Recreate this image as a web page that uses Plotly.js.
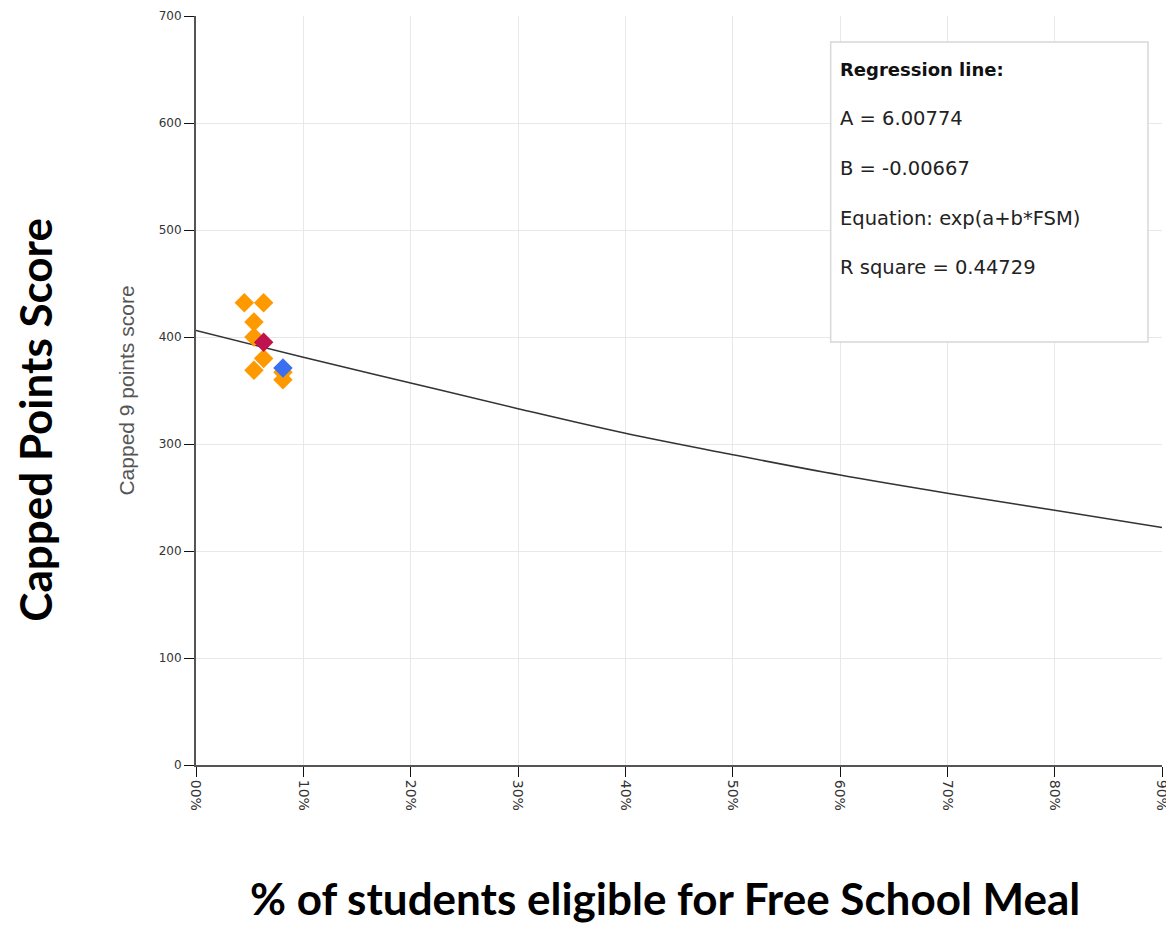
<!DOCTYPE html>
<html>
<head>
<meta charset="utf-8">
<script src="https://cdn.plot.ly/plotly-3.0.1.min.js"></script>
<style>html,body{margin:0;padding:0;background:#fff;}#chart{width:1166px;height:925px;}</style>
</head>
<body>
<div id="chart"></div>
<script>
// Data
const orangeFSM   = [4.5, 6.3, 5.4, 5.4, 6.3, 5.4, 8.1, 8.1];
const orangeScore = [432, 432, 414, 400, 380, 369, 360, 367];
const redFSM   = [6.3];
const redScore = [395];
const blueFSM   = [8.1];
const blueScore = [371];
const lineFSM   = [0, 10, 20, 30, 40, 50, 60, 70, 80, 90];
const lineScore = [406, 381, 357, 333, 310, 290, 271, 254, 238, 222];
const xTickVals = [0, 10, 20, 30, 40, 50, 60, 70, 80, 90];
const xTickText = ["00%", "10%", "20%", "30%", "40%", "50%", "60%", "70%", "80%", "90%"];
const boxLines = ["A = 6.00774", "B = -0.00667", "Equation: exp(a+b*FSM)", "R square = 0.44729"];

const traces = [
  {x: lineFSM, y: lineScore, mode: 'lines', line: {color: '#333', width: 1.5, shape: 'spline'}, hoverinfo: 'skip'},
  {x: orangeFSM, y: orangeScore, mode: 'markers', marker: {symbol: 'diamond', size: 15, color: '#FF9900'}},
  {x: blueFSM, y: blueScore, mode: 'markers', marker: {symbol: 'diamond', size: 15, color: '#3A6FF0'}},
  {x: redFSM, y: redScore, mode: 'markers', marker: {symbol: 'diamond', size: 15, color: '#C0134D'}}
];

const boxFont = {family: 'DejaVu Sans, Verdana, sans-serif', size: 19.5, color: '#222'};
const titleFont = {family: 'Lato, Open Sans, sans-serif', size: 44, color: '#000'};
const annotations = [
  {xref: 'paper', yref: 'paper', x: 0.6646, y: 0.928, xanchor: 'left', yanchor: 'middle', showarrow: false,
   text: '<b>Regression line:</b>', font: {family: 'DejaVu Sans, Verdana, sans-serif', size: 18, color: '#111'}},
  {xref: 'paper', yref: 'paper', x: -0.167, y: 0.4606, xanchor: 'center', yanchor: 'middle', showarrow: false,
   textangle: -90, text: '<b>Capped Points Score</b>', font: titleFont},
  {xref: 'paper', yref: 'paper', x: 0.4855, y: -0.1775, xanchor: 'center', yanchor: 'middle', showarrow: false,
   text: '<b>% of students eligible for Free School Meal</b>', font: titleFont}
];
const lineY = [0.8638, 0.797, 0.7303, 0.6636];
boxLines.forEach((t, i) => annotations.push({xref: 'paper', yref: 'paper', x: 0.6646, y: lineY[i], xanchor: 'left', yanchor: 'middle', showarrow: false, text: t, font: boxFont}));

const layout = {
  width: 1166, height: 925,
  margin: {l: 196, r: 4, t: 16, b: 160},
  paper_bgcolor: '#fff', plot_bgcolor: '#fff',
  showlegend: false,
  xaxis: {
    range: [0, 90], tickvals: xTickVals, ticktext: xTickText, tickangle: 90,
    showgrid: true, gridcolor: '#e8e8e8', zeroline: false,
    showline: true, linecolor: '#555', linewidth: 2,
    ticks: 'outside', ticklen: 10, tickcolor: '#111', tickwidth: 1,
    ticklabeloverflow: 'allow',
    tickfont: {family: 'DejaVu Sans, Verdana, sans-serif', size: 14, color: '#333'}
  },
  yaxis: {
    range: [0, 700], dtick: 100, tick0: 0,
    showgrid: true, gridcolor: '#e8e8e8', zeroline: false,
    showline: true, linecolor: '#555', linewidth: 2,
    ticks: 'outside', ticklen: 10, tickcolor: '#111', tickwidth: 1,
    tickfont: {family: 'DejaVu Sans, Verdana, sans-serif', size: 12, color: '#333'},
    title: {text: 'Capped 9 points score', font: {family: 'Liberation Sans, Arial, sans-serif', size: 21, color: '#555'}, standoff: 18}
  },
  shapes: [
    {type: 'rect', xref: 'paper', yref: 'paper', x0: 0.657, x1: 0.9855, y0: 0.5648, y1: 0.9653,
     fillcolor: '#fff', line: {color: '#d8d8d8', width: 1.5}, layer: 'above'}
  ],
  annotations: annotations
};

Plotly.newPlot('chart', traces, layout, {displayModeBar: false, staticPlot: true});
</script>
</body>
</html>
